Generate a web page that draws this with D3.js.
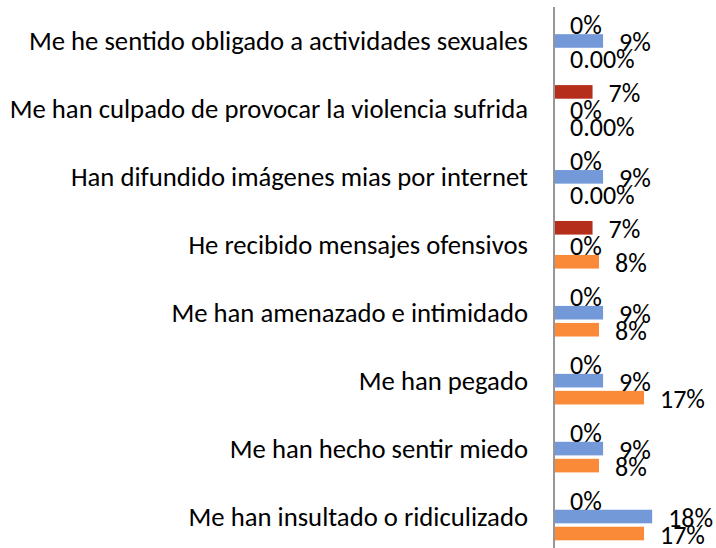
<!DOCTYPE html>
<html>
<head>
<meta charset="utf-8">
<script src="https://cdn.jsdelivr.net/npm/d3@7"></script>
<style>
  body { margin: 0; background: #fff; }
  text { font-family: Carlito, Calibri, Lato, sans-serif; fill: #000; }
</style>
</head>
<body>
<svg id="chart" width="716" height="548"></svg>
<script>
// categories, top to bottom
var categories = [
    "Me he sentido obligado a actividades sexuales",
    "Me han culpado de provocar la violencia sufrida",
    "Han difundido imágenes mias por internet",
    "He recibido mensajes ofensivos",
    "Me han amenazado e intimidado",
    "Me han pegado",
    "Me han hecho sentir miedo",
    "Me han insultado o ridiculizado"
];

// series values (shares), one per category
var redValues    = [0, 0.0714, 0, 0.0714, 0, 0, 0, 0];
var blueValues   = [0.0909, 0, 0.0909, 0, 0.0909, 0.0909, 0.0909, 0.1818];
var orangeValues = [0, 0, 0, 0.0833, 0.0833, 0.1667, 0.0833, 0.1667];

var seriesKeys = ["red", "blue", "orange"];
var seriesColors = { red: "#b52e1b", blue: "#7499d9", orange: "#fb8a38" };

var svg = d3.select("#chart");

var axisX = 554;
var labelGap = 16;

var x = d3.scaleLinear().domain([0, 0.2]).range([axisX, axisX + 108]);

var y0 = d3.scaleBand().domain(categories).range([7, 550.5]);
var half = y0.bandwidth() / 2;
var y1 = d3.scaleBand().domain(seriesKeys)
    .range([half - 25.5, half + 25.5])
    .paddingInner(0.2).paddingOuter(0.1);

var rows = categories.map(function(c, i) {
    return [
        { cat: c, key: "red", value: redValues[i] },
        { cat: c, key: "blue", value: blueValues[i] },
        { cat: c, key: "orange", value: orangeValues[i] }
    ];
});

var fmtPct = d3.format(".0%");
var fmtZeroOrange = d3.format(".2%");
var labelText = function(d) {
    if (d.key == "orange" && d.value == 0) {
        return fmtZeroOrange(0);
    }
    return fmtPct(d.value);
};

// category labels
svg.append("g").selectAll("text")
    .data(categories)
    .join("text")
    .attr("x", axisX - 26)
    .attr("y", function(d) { return y0(d) + half; })
    .attr("dy", "0.35em")
    .attr("text-anchor", "end")
    .style("font-size", "26.7px")
    .text(function(d) { return d; });

// bars
var groups = svg.append("g").selectAll("g")
    .data(rows)
    .join("g")
    .attr("transform", function(d) { return "translate(0," + y0(d[0].cat) + ")"; });

groups.selectAll("rect")
    .data(function(d) { return d; })
    .join("rect")
    .attr("x", x(0))
    .attr("y", function(d) { return y1(d.key); })
    .attr("width", function(d) { return x(d.value) - x(0); })
    .attr("height", y1.bandwidth())
    .attr("fill", function(d) { return seriesColors[d.key]; });

// axis line
svg.append("line")
    .attr("x1", axisX).attr("x2", axisX)
    .attr("y1", 7).attr("y2", 548)
    .attr("stroke", "#969696")
    .attr("stroke-width", 2);

// value labels
groups.selectAll("text")
    .data(function(d) { return d; })
    .join("text")
    .attr("x", function(d) { return x(d.value) + labelGap; })
    .attr("y", function(d) { return y1(d.key) + y1.bandwidth() / 2 + 1; })
    .attr("dy", "0.35em")
    .style("font-size", "26px")
    .text(labelText);
</script>
</body>
</html>
